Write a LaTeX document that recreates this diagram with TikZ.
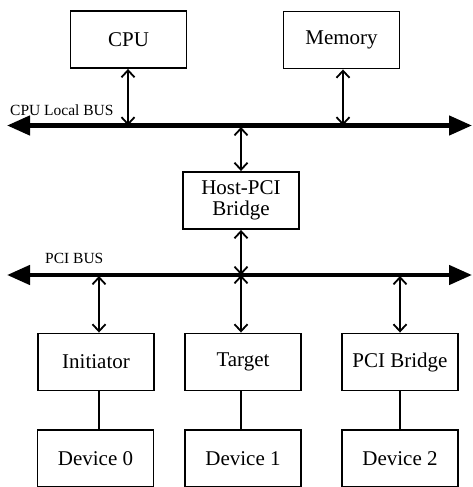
\documentclass[tikz,border=0pt]{standalone}
\usepackage{fontspec}
\setmainfont{Liberation Serif}
\usetikzlibrary{arrows.meta}
\begin{document}
\begin{tikzpicture}[x=1pt,y=-1pt,
  blk/.style={draw,line width=1.9pt,minimum width=116pt,minimum height=57pt,
    inner sep=0pt,font=\fontsize{21}{23}\selectfont,align=center},
  bus/.style={line width=4.5pt,{Triangle[length=23pt,width=19pt]}-{Triangle[length=23pt,width=19pt]}},
  link/.style={line width=1.8pt,{Straight Barb[length=7pt,width=13pt]}-{Straight Barb[length=7pt,width=13pt]}},
  wire/.style={line width=1.8pt},
  buslabel/.style={anchor=base west,inner sep=0pt,font=\fontsize{15.5}{17}\selectfont}]
\useasboundingbox (0,0) rectangle (472,487);

% top devices
\node[blk] (cpu) at (128.5,39.5) {CPU};
\node[blk] (mem) at (341.5,40) {Memory};

% CPU local bus
\coordinate (b1l) at (7,125.5);
\coordinate (b1r) at (472,125.5);
\draw[bus] (b1l) -- (b1r);
\node[buslabel] (lbl1) at (10,115) {CPU Local BUS};

% host bridge
\node[blk] (host) at (241,200.5) {Host-PCI\\[-2pt]Bridge};

% PCI bus
\coordinate (b2l) at (7,275);
\coordinate (b2r) at (472,275);
\draw[bus] (b2l) -- (b2r);
\node[buslabel] (lbl2) at (45,263) {PCI BUS};

% PCI agents
\node[blk] (init) at (96,362) {Initiator};
\node[blk] (targ) at (243,362) {Target};
\node[blk] (pcib) at (400,362) {PCI Bridge};

% attached devices
\node[blk] (dev0) at (95.5,458.5) {Device 0};
\node[blk] (dev1) at (243,458.5) {Device 1};
\node[blk] (dev2) at (400,458.5) {Device 2};

% bus connections
\coordinate (c1) at (128,125.5);
\coordinate (c2) at (343,125.5);
\coordinate (c3) at (241,127);
\coordinate (c4) at (241,275);
\coordinate (c5) at (99,276);
\coordinate (c6) at (400,276);
\draw[link] (cpu.south -| c1) -- (c1);
\draw[link] (mem.south -| c2) -- (c2);
\draw[link] (c3) -- (host.north -| c3);
\draw[link] (host.south -| c4) -- (c4);
\draw[link] (c4) -- (targ.north -| c4);
\draw[link] (c5) -- (init.north -| c5);
\draw[link] (c6) -- (pcib.north -| c6);

% local links
\draw[wire] (init.south -| c5) -- (dev0.north -| c5);
\draw[wire] (targ.south -| c4) -- (dev1.north -| c4);
\draw[wire] (pcib.south -| c6) -- (dev2.north -| c6);
\end{tikzpicture}
\end{document}
